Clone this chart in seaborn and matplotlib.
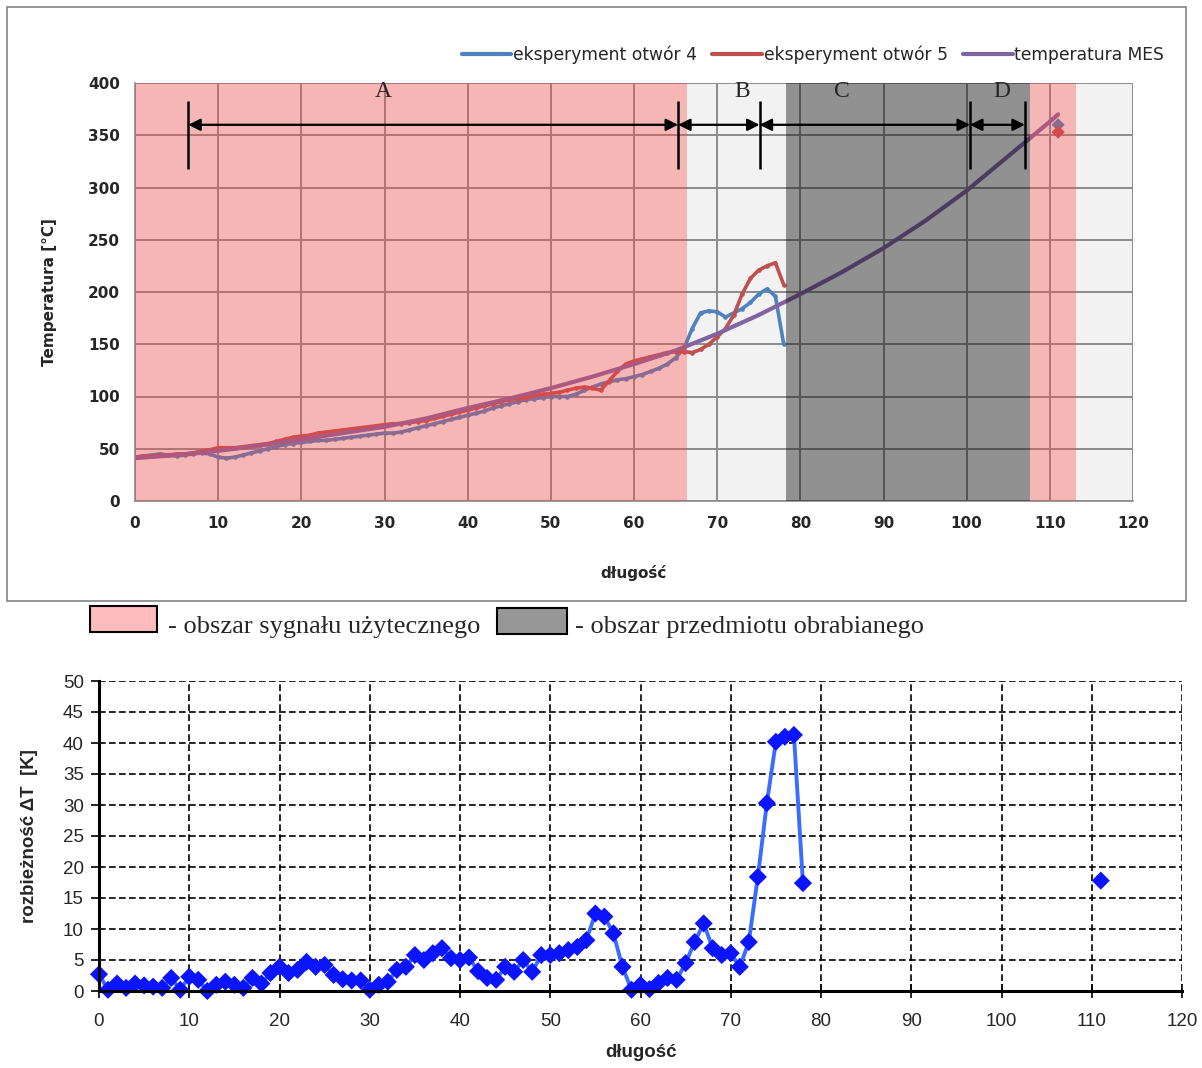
import matplotlib
matplotlib.use("Agg")
import matplotlib.pyplot as plt
import matplotlib.patches as mpatches
import seaborn as sns

# --- top chart data ---
x_exp = list(range(0, 79))
t_otw4 = [42, 43, 44, 45, 44, 43, 44, 45, 46, 45,
          42, 41, 42, 44, 46, 48, 50, 52, 54, 55,
          56, 57, 58, 58, 59, 60, 61, 62, 63, 64,
          65, 65, 66, 68, 70, 72, 74, 76, 78, 80,
          82, 84, 86, 89, 91, 93, 95, 97, 98, 99,
          100, 100, 100, 102, 106, 109, 112, 114, 116, 117,
          119, 121, 124, 127, 131, 137, 146, 165, 180, 182,
          181, 176, 180, 184, 190, 198, 203, 196, 150]
t_otw5 = [42, 43, 43, 44, 44, 45, 45, 46, 48, 49,
          51, 51, 51, 52, 53, 54, 55, 57, 59, 61,
          62, 63, 65, 66, 67, 68, 69, 70, 71, 72,
          73, 74, 74, 75, 76, 77, 79, 81, 83, 85,
          87, 89, 91, 93, 95, 97, 98, 99, 101, 102,
          103, 104, 106, 108, 109, 108, 106, 115, 124, 131,
          134, 136, 138, 140, 142, 143, 143, 142, 145, 150,
          157, 165, 178, 198, 213, 221, 225, 228, 207]
x_end = [111]
t_otw4_end = [360]
t_otw5_end = [353]

x_mes = [0, 5, 10, 15, 20, 25, 30, 35, 40, 45, 50, 55, 60, 65, 70,
         75, 80, 85, 90, 95, 100, 105, 110, 111]
t_mes = [41, 44, 48, 53, 59, 65, 71, 79, 89, 98, 108, 119, 131, 144, 160,
         178, 198, 219, 242, 268, 297, 330, 363, 370]

# zones: pink = useful signal, dark = workpiece
pink_zones = [(0, 66.4), (107.6, 113.1)]
dark_zones = [(78.3, 107.6)]
arrow_pts = [6.4, 65.3, 75.1, 100.4, 107.0]
zone_labels = ["A", "B", "C", "D"]
label_x = [29.9, 73.0, 85.0, 104.2]

# --- bottom chart data ---
x_diff = list(range(0, 79))
dT = [2.7, 0.2, 1.2, 0.5, 1.2, 0.9, 0.7, 0.5, 2.1, 0.2,
      2.3, 1.8, 0.0, 1.0, 1.5, 1.0, 0.5, 2.1, 1.2, 2.9,
      3.9, 2.9, 3.4, 4.7, 3.9, 4.2, 2.6, 1.9, 1.7, 1.7,
      0.2, 1.0, 1.5, 3.4, 3.9, 5.8, 5.0, 6.1, 6.9, 5.3,
      5.0, 5.4, 3.2, 2.1, 1.8, 3.9, 3.1, 5.0, 3.1, 5.8,
      5.8, 6.1, 6.6, 7.1, 8.2, 12.5, 12.0, 9.3, 3.9, 0.2,
      1.0, 0.3, 1.3, 2.1, 1.8, 4.5, 7.9, 10.9, 6.9, 5.8,
      6.1, 3.9, 7.9, 18.4, 30.3, 40.2, 41.0, 41.3, 17.4]
x_diff_end = [111]
dT_end = [17.8]

sns.set_theme(style="white")
plt.rcParams["font.family"] = ["DejaVu Sans"]

W, H = 1202, 1068
fig = plt.figure(figsize=(W / 100, H / 100), dpi=100)


def fx(px):
    return px / W


def fy(py):
    return 1 - py / H


# ================= top chart =================
ax = fig.add_axes([fx(135), fy(501), fx(1133) - fx(135), fy(83) - fy(501)])
ax.set_facecolor("#f2f2f2")

c4, c5, cm = "#4f81bd", "#c0504d", "#8064a2"
sns.lineplot(x=x_exp, y=t_otw4, ax=ax, color=c4, lw=2.6, marker="o", ms=2.5,
             mec=c4, label="eksperyment otwór 4", zorder=2)
sns.lineplot(x=x_exp, y=t_otw5, ax=ax, color=c5, lw=2.6, marker="o", ms=2.5,
             mec=c5, label="eksperyment otwór 5", zorder=2.1)
sns.lineplot(x=x_mes, y=t_mes, ax=ax, color=cm, lw=3, label="temperatura MES", zorder=2.2)
sns.scatterplot(x=x_end, y=t_otw4_end, ax=ax, color=c4, marker="D", s=45,
                edgecolor="none", zorder=2.3, legend=False)
sns.scatterplot(x=x_end, y=t_otw5_end, ax=ax, color=c5, marker="D", s=45,
                edgecolor="none", zorder=2.4, legend=False)

for a, b in pink_zones:
    ax.axvspan(a, b, color="#ff4444", alpha=0.34, lw=0, zorder=3)
for a, b in dark_zones:
    ax.axvspan(a, b, color="black", alpha=0.4, lw=0, zorder=3)

ax.set_xlim(0, 120)
ax.set_ylim(0, 400)
ax.set_xticks(range(0, 121, 10))
ax.set_yticks(range(0, 401, 50))
ax.grid(True, color="#8c8c8c", lw=1.4, zorder=1)
ax.set_axisbelow(True)
for s in ["top", "right"]:
    ax.spines[s].set_visible(False)
for s in ["left", "bottom"]:
    ax.spines[s].set_color("#8c8c8c")
    ax.spines[s].set_linewidth(1.2)
ax.tick_params(axis="both", direction="out", length=5, width=1, color="#8c8c8c",
               labelsize=11, pad=6)
for lab in ax.get_xticklabels() + ax.get_yticklabels():
    lab.set_fontweight("bold")
ax.set_xlabel("długość", fontsize=11, fontweight="bold", labelpad=24)
ax.set_ylabel("Temperatura [°C]", fontsize=11, fontweight="bold", labelpad=22)

# zone arrows
ax.vlines(arrow_pts, 318, 383, color="black", lw=1.8, zorder=5)
for a, b in zip(arrow_pts[:-1], arrow_pts[1:]):
    ax.annotate("", xy=(b, 360), xytext=(a, 360),
                arrowprops=dict(arrowstyle="<|-|>", color="black", lw=1.6,
                                mutation_scale=18, shrinkA=0, shrinkB=0),
                zorder=5)
for lx, t in zip(label_x, zone_labels):
    ax.text(lx, 392, t, ha="center", va="center", fontsize=17,
            family="Liberation Serif", zorder=5)

leg = ax.legend(loc="lower right", bbox_to_anchor=(1.038, 1.03), ncol=3, frameon=False,
                fontsize=12.3, handlelength=2.9, handletextpad=0.1, columnspacing=0.9,
                borderaxespad=0.0)
for ln in leg.get_lines():
    ln.set_linewidth(3)
    ln.set_marker("")

fig.patches.append(mpatches.Rectangle((fx(7), fy(601)), fx(1186) - fx(7), fy(7) - fy(601),
                                      transform=fig.transFigure, fill=False,
                                      edgecolor="#8c8c8c", lw=1.3))

# middle legend for zones
fig.patches.append(mpatches.Rectangle((fx(90), fy(632)), fx(67), 26 / H,
                                      transform=fig.transFigure, facecolor="#ffbcbc",
                                      edgecolor="black", lw=1.5))
fig.patches.append(mpatches.Rectangle((fx(497), fy(634)), fx(70), 26 / H,
                                      transform=fig.transFigure, facecolor="#969696",
                                      edgecolor="black", lw=1.5))
fig.text(fx(168), fy(627), "- obszar sygnału użytecznego", fontsize=19,
         family="Liberation Serif", va="center", ha="left")
fig.text(fx(575), fy(627), "- obszar przedmiotu obrabianego", fontsize=19,
         family="Liberation Serif", va="center", ha="left")

# ================= bottom chart =================
ax2 = fig.add_axes([fx(99), fy(991), fx(1182) - fx(99), fy(681) - fy(991)])
ax2.set_facecolor("white")
sns.lineplot(x=x_diff, y=dT, ax=ax2, color="#3a6dff", lw=2.8, zorder=3)
sns.scatterplot(x=x_diff + x_diff_end, y=dT + dT_end, ax=ax2, color="#0a14ff",
                marker="D", s=85, edgecolor="none", zorder=4, clip_on=False)
ax2.set_xlim(0, 120)
ax2.set_ylim(0, 50)
ax2.set_xticks(range(0, 121, 10))
ax2.set_yticks(range(0, 51, 5))
ax2.grid(True, color="black", lw=1.2, ls=(0, (4, 2)), zorder=1)
ax2.set_axisbelow(True)
for s in ["top", "right"]:
    ax2.spines[s].set_visible(False)
for s in ["left", "bottom"]:
    ax2.spines[s].set_color("black")
    ax2.spines[s].set_linewidth(2.2)
    ax2.spines[s].set_zorder(5)
ax2.tick_params(axis="y", direction="out", length=6, width=1.2, color="black",
                labelsize=13.5, pad=5, left=True)
ax2.tick_params(axis="x", direction="inout", length=10, width=1.2, color="black",
                labelsize=13.5, pad=11, bottom=True)
for lab in ax2.get_xticklabels() + ax2.get_yticklabels():
    lab.set_family("Liberation Sans")
ax2.set_xlabel("długość", fontsize=13.5, fontweight="bold", family="Liberation Sans",
               labelpad=10)
ax2.set_ylabel("rozbieżność ΔT  [K]", fontsize=13.5, fontweight="bold",
               family="Liberation Sans", labelpad=18)

fig.savefig("out.png", dpi=100)
